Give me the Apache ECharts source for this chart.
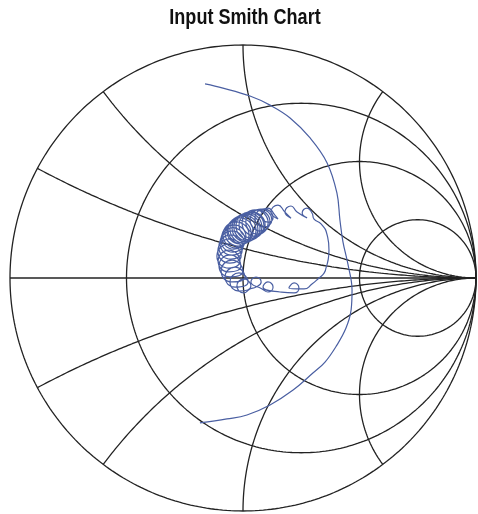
<!DOCTYPE html>
<html><head><meta charset="utf-8">
<script src="https://cdn.jsdelivr.net/npm/echarts/dist/echarts.min.js"></script>
<style>html,body{margin:0;padding:0;background:#fff}#c{width:478px;height:514px}</style>
</head><body><div id="c"></div>
<script>
const titleText = 'Input Smith Chart';
// Smith grid values
const resistanceCircles = [1/3, 1, 3];
const reactanceArcs = [0.25, 0.5, 1, 2];
// Reflection coefficient trace (real, imag): the wide sweep
const sweepRe = [-0.163,-0.086,0.030,0.116,0.202,0.288,0.361,0.403,0.416,0.429,0.451,0.468,0.464,0.442,0.403,0.352,0.300,0.215,0.116,0.017,-0.069,-0.185];
const sweepIm = [0.833,0.815,0.781,0.742,0.687,0.601,0.494,0.365,0.249,0.155,0.056,-0.052,-0.137,-0.215,-0.288,-0.361,-0.408,-0.481,-0.545,-0.588,-0.605,-0.622];
// Reflection coefficient trace (real, imag): the resonant loops
const loopRe = [0.356,0.369,0.361,0.335,0.305,
 0.296,0.275,0.254,0.275,
 0.232,0.206,0.180,0.206,
 0.180,0.150,0.120,0.150,
 0.137,0.107,0.077,0.107,
 0.129,0.090,0.051,0.090,
 0.124,0.077,0.030,0.077,
 0.116,0.064,0.012,0.064,
 0.108,0.052,-0.004,0.052,
 0.095,0.039,-0.017,0.039,
 0.090,0.030,-0.030,0.030,
 0.081,0.021,-0.039,0.021,
 0.073,0.013,-0.047,0.013,
 0.064,0.004,-0.056,0.004,
 0.056,-0.004,-0.064,-0.004,
 0.043,-0.013,-0.069,-0.013,
 0.035,-0.021,-0.077,-0.021,
 0.026,-0.030,-0.086,-0.030,
 0.013,-0.039,-0.091,-0.039,
 0.009,-0.043,-0.095,-0.043,
 0.005,-0.047,-0.099,-0.047,
 0.000,-0.052,-0.104,-0.052,
 -0.004,-0.056,-0.108,-0.056,
 -0.008,-0.060,-0.112,-0.060,
 -0.013,-0.060,-0.107,-0.060,
 -0.009,-0.056,-0.103,-0.056,
 0.000,-0.047,-0.094,-0.047,
 0.009,-0.034,-0.077,-0.034,
 0.022,-0.017,-0.056,-0.017,
 0.034,0.004,-0.026,0.004,
 0.030,
 0.056,0.078,0.056,0.034,
 0.082,
 0.107,0.129,0.107,0.086,
 0.159,
 0.219,0.240,0.219,0.197,
 0.262,0.296,0.326,0.348,0.356];
const loopIm = [0.043,0.120,0.185,0.232,0.253,
 0.279,0.300,0.279,0.258,
 0.283,0.309,0.283,0.257,
 0.283,0.313,0.283,0.253,
 0.270,0.300,0.270,0.240,
 0.258,0.297,0.258,0.219,
 0.249,0.296,0.249,0.202,
 0.240,0.292,0.240,0.188,
 0.236,0.292,0.236,0.180,
 0.227,0.283,0.227,0.171,
 0.223,0.283,0.223,0.163,
 0.219,0.279,0.219,0.159,
 0.215,0.275,0.215,0.155,
 0.210,0.270,0.210,0.150,
 0.206,0.266,0.206,0.146,
 0.202,0.258,0.202,0.146,
 0.193,0.249,0.193,0.137,
 0.185,0.241,0.185,0.129,
 0.176,0.228,0.176,0.124,
 0.163,0.215,0.163,0.111,
 0.150,0.202,0.150,0.098,
 0.133,0.185,0.133,0.081,
 0.116,0.168,0.116,0.064,
 0.094,0.146,0.094,0.042,
 0.073,0.120,0.073,0.026,
 0.052,0.099,0.052,0.005,
 0.030,0.077,0.030,-0.017,
 0.004,0.047,0.004,-0.039,
 -0.017,0.022,-0.017,-0.056,
 -0.034,-0.004,-0.034,-0.064,
 -0.047,
 -0.039,-0.017,0.004,-0.017,
 -0.047,
 -0.060,-0.039,-0.017,-0.039,
 -0.060,
 -0.064,-0.043,-0.021,-0.043,
 -0.047,-0.026,0.000,0.021,0.043];

function rCircle(r){
  const c = r/(1+r), R = 1/(1+r), pts = [];
  for (let i = 0; i <= 360; i++){ const t = i*Math.PI/180; pts.push([c+R*Math.cos(t), R*Math.sin(t)]); }
  return pts;
}
function xArc(x){
  const pts = [];
  for (let i = 0; i < 400; i++){
    const r = Math.tan(i/400*Math.PI/2);
    const D = (r+1)*(r+1)+x*x;
    pts.push([(r*r+x*x-1)/D, 2*x/D]);
  }
  pts.push([1,0]);
  return pts;
}
const gridStyle = {color:'#222', width:1.3};
const series = [];
function addGrid(data){
  series.push({type:'line', data, showSymbol:false, silent:true, lineStyle:gridStyle, z:1, clip:false});
}
addGrid(rCircle(0));
addGrid([[-1,0],[1,0]]);
resistanceCircles.forEach(r => addGrid(rCircle(r)));
reactanceArcs.forEach(x => { addGrid(xArc(x)); addGrid(xArc(-x)); });
const traceStyle = {color:'#4a5fa2', width:1.2};
series.push({type:'line', data: sweepRe.map((v,i)=>[v, sweepIm[i]]), showSymbol:false, smooth:0.4, silent:true, lineStyle:traceStyle, z:3});
series.push({type:'line', data: loopRe.map((v,i)=>[v, loopIm[i]]), showSymbol:false, smooth:0.55, silent:true, lineStyle:traceStyle, z:3});

const chart = echarts.init(document.getElementById('c'), null, {renderer:'canvas'});
chart.setOption({
  animation:false,
  backgroundColor:'#fff',
  graphic:[{type:'text', x:245, y:7, scaleX:0.82, style:{text:titleText, textAlign:'center', textVerticalAlign:'top', font:'bold 22px "Liberation Sans", Arial, sans-serif', fill:'#111'}}],
  grid:{left:10, top:45, width:466, height:466},
  xAxis:{type:'value', min:-1, max:1, show:false},
  yAxis:{type:'value', min:-1, max:1, show:false},
  series
});
</script></body></html>
